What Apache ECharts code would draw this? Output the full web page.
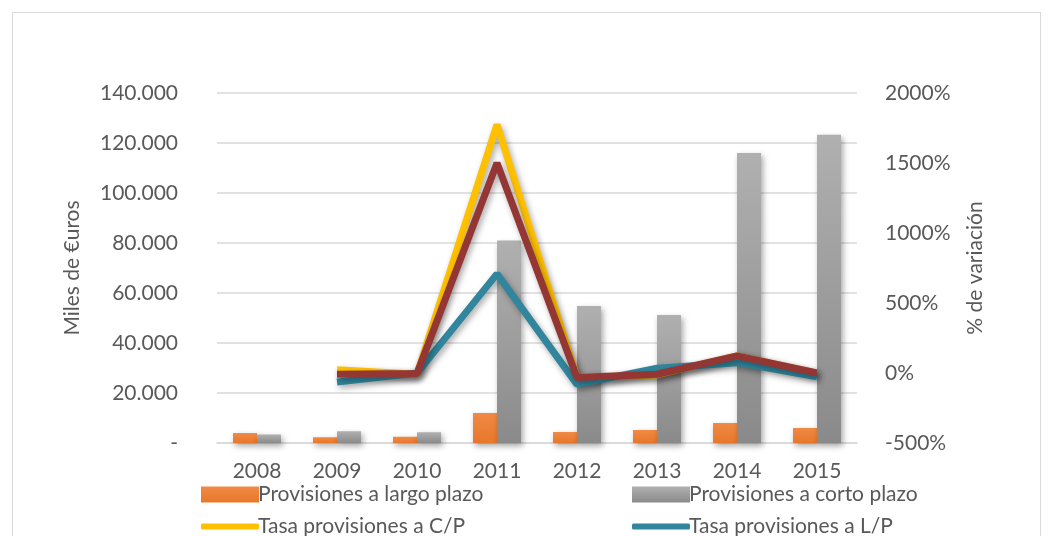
<!DOCTYPE html>
<html>
<head>
<meta charset="utf-8">
<script src="https://cdn.jsdelivr.net/npm/echarts@6/dist/echarts.min.js"></script>
<style>
html,body{margin:0;padding:0;background:#fff;}
#frame{position:absolute;left:12px;top:12px;width:1029px;height:540px;border:1px solid #d9d9d9;box-sizing:border-box;}
#chart{position:absolute;left:0;top:0;width:1054px;height:536px;}
</style>
</head>
<body>
<div id="frame"></div>
<div id="chart"></div>
<script>
const years = ['2008','2009','2010','2011','2012','2013','2014','2015']
// miles de euros
const largoPlazo = [4000, 2300, 2500, 12000, 4400, 5200, 8000, 6000]
const cortoPlazo = [3400, 4700, 4300, 81000, 54800, 51200, 116000, 123300]
// % de variación
const tasaCP = [null, 24, -9, 1775, -33, -14, 122, -1]
const tasaLP = [null, -64, -1, 708, -81, 34, 74, -28]
const tasaTotal = [null, -9, -4, 1500, -33, -9, 122, 0]

const font = 'Lato, "Noto Sans", sans-serif'
const txt = '#595959'

const chart = echarts.init(document.getElementById('chart'))

function fmtMiles(v) {
  if (v === 0) return '-'
  return String(v).replace(/\B(?=(\d{3})+(?!\d))/g, '.')
}

const shadow = {shadowColor: 'rgba(0,0,0,0.35)', shadowBlur: 6, shadowOffsetX: 2, shadowOffsetY: 3}

// one legend per item so the two columns stay put
function leg(name, left, top, isLine) {
  return {
    data: [name], left: left, top: top,
    icon: isLine ? 'roundRect' : 'rect',
    itemWidth: 58, itemHeight: isLine ? 6 : 16,
    textStyle: {fontFamily: font, fontSize: 21, color: txt, padding: [0,0,0,-6]}
  }
}

chart.setOption({
  animation: false,
  textStyle: {fontFamily: font},
  grid: {left: 217, right: 197, top: 93, bottom: 93},
  legend: [
    leg('Provisiones a largo plazo', 196, 479, false),
    leg('Provisiones a corto plazo', 627, 479, false),
    leg('Tasa provisiones a C/P', 196, 511, true),
    leg('Tasa provisiones a L/P', 627, 511, true)
  ],
  xAxis: {
    type: 'category',
    data: years,
    axisLine: {show: true, lineStyle: {color: '#d9d9d9', width: 1.5}},
    axisTick: {show: false},
    axisLabel: {fontSize: 21, color: txt, margin: 18}
  },
  yAxis: [{
    type: 'value', min: 0, max: 140000, interval: 20000,
    name: 'Miles de €uros', nameLocation: 'middle', nameGap: 134, nameRotate: 90,
    nameTextStyle: {fontSize: 21, color: txt},
    axisLabel: {fontSize: 21, color: txt, margin: 39, formatter: fmtMiles},
    splitLine: {lineStyle: {color: '#d9d9d9', width: 1.5}},
    axisLine: {show: false}, axisTick: {show: false}
  }, {
    type: 'value', min: -500, max: 2000, interval: 500, position: 'right',
    name: '% de variación', nameLocation: 'middle', nameGap: 108, nameRotate: 90,
    nameTextStyle: {fontSize: 21, color: txt},
    axisLabel: {fontSize: 21, color: txt, margin: 28, formatter: v => v + '%'},
    splitLine: {show: false},
    axisLine: {show: false}, axisTick: {show: false}
  }],
  series: [{
    name: 'Provisiones a largo plazo', type: 'bar', data: largoPlazo,
    barWidth: 24, barGap: '0%',
    itemStyle: Object.assign({color: new echarts.graphic.LinearGradient(0,0,0,1,[{offset:0,color:'#f08a45'},{offset:1,color:'#e8772a'}])}, shadow)
  }, {
    name: 'Provisiones a corto plazo', type: 'bar', data: cortoPlazo,
    barWidth: 24,
    itemStyle: Object.assign({color: new echarts.graphic.LinearGradient(0,0,0,1,[{offset:0,color:'#b0b0b0'},{offset:1,color:'#8a8a8a'}])}, shadow)
  }, {
    name: 'Tasa provisiones a C/P', type: 'line', yAxisIndex: 1, data: tasaCP,
    symbol: 'none', lineStyle: Object.assign({color: '#ffc000', width: 7}, shadow), itemStyle: {color: '#ffc000'}
  }, {
    name: 'Tasa provisiones a L/P', type: 'line', yAxisIndex: 1, data: tasaLP,
    symbol: 'none', lineStyle: Object.assign({color: '#31859c', width: 7}, shadow), itemStyle: {color: '#31859c'}
  }, {
    name: 'Tasa provisiones totales', type: 'line', yAxisIndex: 1, data: tasaTotal,
    symbol: 'none', lineStyle: Object.assign({color: '#943634', width: 7}, shadow), itemStyle: {color: '#943634'}
  }]
})
</script>
</body>
</html>
